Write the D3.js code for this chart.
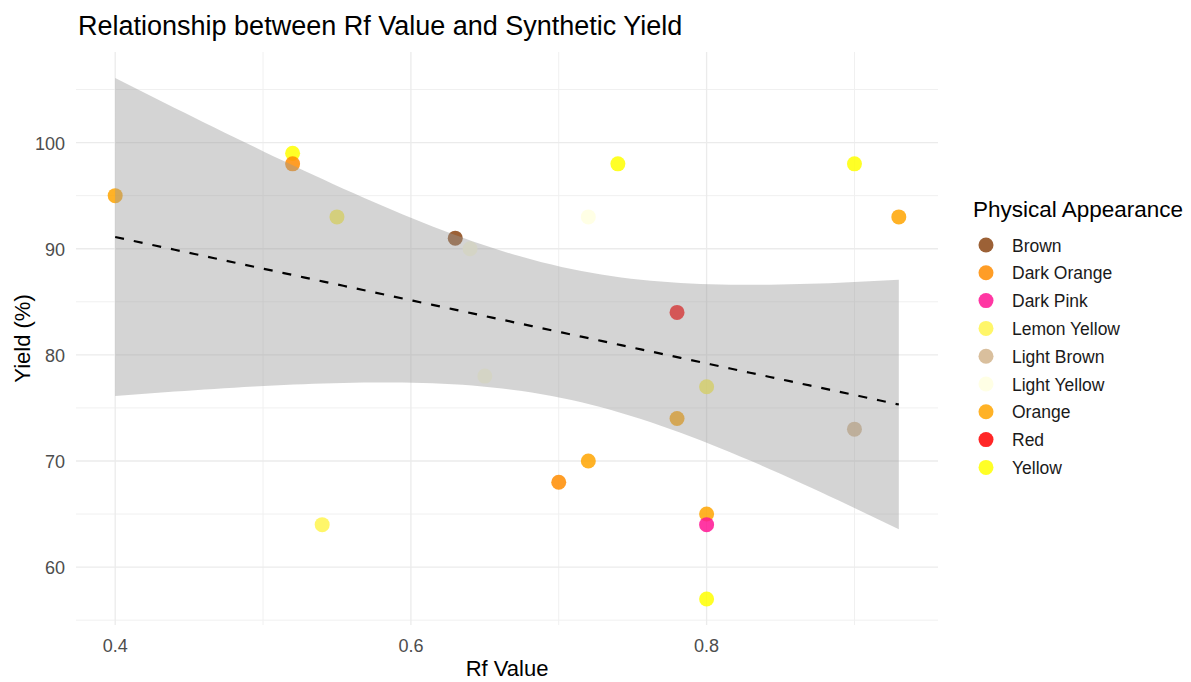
<!DOCTYPE html>
<html>
<head>
<meta charset="utf-8">
<script src="https://cdn.jsdelivr.net/npm/d3@7"></script>
<style>
  body { margin: 0; background: #fff; }
  svg { font-family: "Liberation Sans", Arial, sans-serif; }
  .grid-major { stroke: #ebebeb; stroke-width: 1.3; }
  .grid-minor { stroke: #f0f0f0; stroke-width: 1; }
  .tick-label { fill: #4d4d4d; font-size: 18px; }
</style>
</head>
<body>
<svg id="chart"></svg>
<script>
var width = 1191;
var height = 682;

// data
var rfValues = [0.40, 0.52, 0.52, 0.55, 0.63, 0.64, 0.65, 0.74, 0.72, 0.90, 0.93,
                0.78, 0.80, 0.78, 0.90, 0.70, 0.72, 0.80, 0.80, 0.80, 0.54];
var yields = [95, 99, 98, 93, 91, 90, 78, 98, 93, 98, 93,
              84, 77, 74, 73, 68, 70, 65, 64, 57, 64];
var appearance = ['Orange', 'Yellow', 'Dark Orange', 'Lemon Yellow', 'Brown', 'Light Yellow',
                  'Light Yellow', 'Yellow', 'Light Yellow', 'Yellow', 'Orange',
                  'Red', 'Lemon Yellow', 'Orange', 'Light Brown', 'Dark Orange', 'Orange',
                  'Orange', 'Dark Pink', 'Yellow', 'Lemon Yellow'];
var categories = ['Brown', 'Dark Orange', 'Dark Pink', 'Lemon Yellow', 'Light Brown',
                  'Light Yellow', 'Orange', 'Red', 'Yellow'];
var categoryColors = ['#8B4513', '#FF8C00', '#FF1493', '#FFF44F', '#D2B48C',
                      '#FFFFE0', '#FFA500', '#FF0000', '#FFFF00'];
var xTicks = [0.4, 0.6, 0.8];
var xMinorTicks = [0.5, 0.7, 0.9];
var yTicks = [60, 70, 80, 90, 100];
var yMinorTicks = [55, 65, 75, 85, 95, 105];

var points = rfValues.map(function(x, i) {
  return { x: x, y: yields[i], cat: appearance[i] };
});

// linear fit + 95% confidence band (like geom_smooth(method = "lm"))
var n = points.length;
var meanX = d3.mean(points, function(d) { return d.x; });
var meanY = d3.mean(points, function(d) { return d.y; });
var sxx = d3.sum(points, function(d) { return (d.x - meanX) * (d.x - meanX); });
var sxy = d3.sum(points, function(d) { return (d.x - meanX) * (d.y - meanY); });
var slope = sxy / sxx;
var intercept = meanY - slope * meanX;
var sse = d3.sum(points, function(d) {
  var r = d.y - (intercept + slope * d.x);
  return r * r;
});
var sigma = Math.sqrt(sse / (n - 2));
var tCrit = 2.093; // t quantile 0.975, df = 19
var xExtent = d3.extent(rfValues);
var fit = d3.range(80).map(function(i) {
  var x = xExtent[0] + (xExtent[1] - xExtent[0]) * i / 79;
  var yhat = intercept + slope * x;
  var se = sigma * Math.sqrt(1 / n + (x - meanX) * (x - meanX) / sxx);
  return { x: x, y: yhat, lo: yhat - tCrit * se, hi: yhat + tCrit * se };
});

var margin = { left: 76, right: 253, top: 52, bottom: 57 };
var xPad = (xExtent[1] - xExtent[0]) * 0.05;
var yLo = Math.min(d3.min(yields), d3.min(fit, function(d) { return d.lo; }));
var yHi = Math.max(d3.max(yields), d3.max(fit, function(d) { return d.hi; }));
var yPad = (yHi - yLo) * 0.05;

var x = d3.scaleLinear()
  .domain([xExtent[0] - xPad, xExtent[1] + xPad])
  .range([margin.left, width - margin.right]);
var y = d3.scaleLinear()
  .domain([yLo - yPad, yHi + yPad])
  .range([height - margin.bottom, margin.top]);
var color = d3.scaleOrdinal().domain(categories).range(categoryColors);

var svg = d3.select('#chart').attr('width', width).attr('height', height);

// grid
var grid = svg.append('g');
grid.selectAll('.vx-minor').data(xMinorTicks).enter().append('line')
  .attr('class', 'grid-minor')
  .attr('x1', function(d) { return x(d); }).attr('x2', function(d) { return x(d); })
  .attr('y1', y.range()[0]).attr('y2', y.range()[1]);
grid.selectAll('.hy-minor').data(yMinorTicks).enter().append('line')
  .attr('class', 'grid-minor')
  .attr('y1', function(d) { return y(d); }).attr('y2', function(d) { return y(d); })
  .attr('x1', x.range()[0]).attr('x2', x.range()[1]);
grid.selectAll('.vx').data(xTicks).enter().append('line')
  .attr('class', 'grid-major')
  .attr('x1', function(d) { return x(d); }).attr('x2', function(d) { return x(d); })
  .attr('y1', y.range()[0]).attr('y2', y.range()[1]);
grid.selectAll('.hy').data(yTicks).enter().append('line')
  .attr('class', 'grid-major')
  .attr('y1', function(d) { return y(d); }).attr('y2', function(d) { return y(d); })
  .attr('x1', x.range()[0]).attr('x2', x.range()[1]);

// points
svg.append('g').selectAll('circle').data(points).enter().append('circle')
  .attr('cx', function(d) { return x(d.x); })
  .attr('cy', function(d) { return y(d.y); })
  .attr('r', 7.5)
  .style('fill', function(d) { return color(d.cat); })
  .style('fill-opacity', 0.85);

// confidence band
svg.append('path').datum(fit)
  .attr('d', d3.area()
    .x(function(d) { return x(d.x); })
    .y0(function(d) { return y(d.lo); })
    .y1(function(d) { return y(d.hi); }))
  .style('fill', '#999999')
  .style('fill-opacity', 0.42);

// fit line
svg.append('path').datum(fit)
  .attr('d', d3.line()
    .x(function(d) { return x(d.x); })
    .y(function(d) { return y(d.y); }))
  .style('fill', 'none')
  .style('stroke', '#000')
  .style('stroke-width', 2.2)
  .style('stroke-dasharray', '9,10');

// tick labels
svg.append('g').selectAll('text').data(xTicks).enter().append('text')
  .attr('class', 'tick-label')
  .attr('x', function(d) { return x(d); })
  .attr('y', 652)
  .style('text-anchor', 'middle')
  .text(function(d) { return d3.format('.1f')(d); });
svg.append('g').selectAll('text').data(yTicks).enter().append('text')
  .attr('class', 'tick-label')
  .attr('x', 65)
  .attr('y', function(d) { return y(d) + 7; })
  .style('text-anchor', 'end')
  .text(function(d) { return d; });

// titles
svg.append('text')
  .attr('x', 78).attr('y', 35)
  .style('font-size', '27px').style('fill', '#000')
  .text('Relationship between Rf Value and Synthetic Yield');
svg.append('text')
  .attr('x', (x.range()[0] + x.range()[1]) / 2).attr('y', 676)
  .style('font-size', '22px').style('text-anchor', 'middle')
  .text('Rf Value');
svg.append('text')
  .attr('transform', 'translate(30,' + ((y.range()[0] + y.range()[1]) / 2) + ') rotate(-90)')
  .style('font-size', '22px').style('text-anchor', 'middle')
  .text('Yield (%)');

// legend
var legend = svg.append('g').attr('transform', 'translate(973,0)');
legend.append('text')
  .attr('x', 0).attr('y', 217)
  .style('font-size', '22.5px')
  .text('Physical Appearance');
var items = legend.selectAll('.legend-item').data(categories).enter().append('g')
  .attr('transform', function(d, i) { return 'translate(0,' + (245 + i * 27.8) + ')'; });
items.append('circle')
  .attr('cx', 13).attr('cy', 0).attr('r', 7.5)
  .style('fill', function(d) { return color(d); })
  .style('fill-opacity', 0.85);
items.append('text')
  .attr('x', 39).attr('y', 6.5)
  .style('font-size', '17.5px').style('fill', '#1a1a1a')
  .text(function(d) { return d; });
</script>
</body>
</html>
